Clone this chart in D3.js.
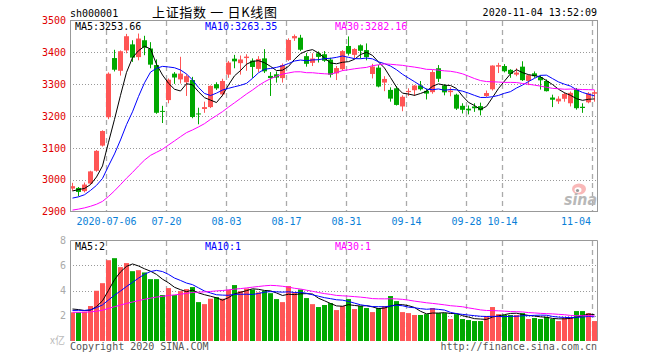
<!DOCTYPE html>
<html><head><meta charset="utf-8">
<script src="https://cdn.jsdelivr.net/npm/d3@7/dist/d3.min.js"></script>
<style>body{margin:0;background:#fff}svg{display:block}</style>
</head><body>
<svg id="c" width="660" height="360"></svg>
<script>
const dates = ["06-24","06-29","06-30","07-01","07-02","07-03","07-06","07-07","07-08","07-09","07-10","07-13","07-14","07-15","07-16","07-17","07-20","07-21","07-22","07-23","07-24","07-27","07-28","07-29","07-30","07-31","08-03","08-04","08-05","08-06","08-07","08-10","08-11","08-12","08-13","08-14","08-17","08-18","08-19","08-20","08-21","08-24","08-25","08-26","08-27","08-28","08-31","09-01","09-02","09-03","09-04","09-07","09-08","09-09","09-10","09-11","09-14","09-15","09-16","09-17","09-18","09-21","09-22","09-23","09-24","09-25","09-28","09-29","09-30","10-09","10-12","10-13","10-14","10-15","10-16","10-19","10-20","10-21","10-22","10-23","10-26","10-27","10-28","10-29","10-30","11-02","11-03","11-04"];
const open = [2972,2974,2964,2988,3028,3107,3196,3382,3342,3406,3425,3385,3438,3412,3360,3216,3250,3333,3315,3306,3313,3208,3222,3228,3300,3268,3330,3380,3366,3382,3374,3348,3381,3326,3331,3319,3376,3444,3446,3388,3367,3397,3394,3377,3334,3347,3420,3392,3422,3407,3332,3352,3305,3282,3287,3230,3275,3281,3296,3279,3275,3350,3296,3275,3267,3232,3223,3230,3231,3263,3284,3355,3357,3345,3330,3355,3310,3334,3322,3310,3258,3246,3254,3240,3284,3229,3243,3270];
const high = [2990,2977,2991,3028,3093,3155,3337,3408,3406,3458,3438,3459,3452,3432,3378,3232,3318,3338,3386,3331,3323,3226,3245,3296,3306,3317,3373,3392,3390,3394,3381,3388,3410,3338,3340,3365,3444,3456,3455,3398,3397,3403,3404,3383,3357,3407,3450,3413,3425,3428,3364,3360,3325,3290,3294,3265,3287,3297,3310,3286,3345,3360,3300,3290,3270,3240,3233,3240,3242,3280,3359,3367,3363,3347,3350,3372,3330,3340,3328,3315,3267,3262,3274,3277,3288,3240,3275,3281];
const low = [2965,2948,2960,2985,3025,3104,3190,3340,3327,3397,3370,3375,3391,3350,3207,3178,3240,3301,3302,3263,3193,3174,3210,3225,3282,3262,3320,3350,3330,3342,3320,3338,3335,3263,3305,3305,3373,3436,3404,3355,3357,3368,3370,3321,3313,3342,3390,3380,3381,3375,3318,3290,3278,3245,3233,3215,3263,3263,3280,3252,3270,3307,3265,3262,3219,3208,3205,3213,3202,3260,3280,3335,3337,3320,3325,3310,3297,3320,3283,3277,3228,3238,3245,3230,3220,3210,3240,3245];
const close = [2979.55,2961.52,2984.67,3025.98,3090.57,3152.81,3332.88,3345.34,3403.44,3450.59,3383.32,3443.29,3414.62,3361.30,3210.10,3214.13,3314.15,3320.90,3333.16,3325.11,3196.77,3205.23,3227.96,3294.55,3286.82,3310.01,3367.97,3371.69,3377.56,3386.46,3354.04,3379.25,3340.29,3319.27,3320.73,3360.10,3438.80,3451.09,3408.13,3363.90,3380.68,3385.64,3373.58,3329.74,3350.59,3403.81,3395.68,3410.61,3404.80,3384.98,3355.37,3292.59,3316.42,3254.63,3234.82,3260.35,3278.81,3295.68,3283.92,3270.44,3338.09,3316.94,3274.30,3279.71,3223.18,3219.42,3217.53,3224.36,3218.05,3272.08,3358.47,3359.75,3340.50,3332.18,3336.36,3312.50,3328.10,3325.03,3312.16,3278.00,3251.12,3254.32,3269.24,3272.74,3224.53,3225.12,3271.07,3274.84];
const volume = [2.27,2.27,2.32,2.77,3.98,4.58,6.40,6.56,5.85,6.17,5.53,5.61,5.43,4.90,4.90,3.64,4.19,3.64,3.95,4.11,4.27,3.08,2.92,3.35,3.48,3.35,4.06,4.43,3.95,4.16,4.08,3.85,3.98,3.79,3.32,3.08,4.35,3.85,4.08,3.40,2.92,2.69,2.85,3.00,2.45,2.77,3.32,2.53,2.77,2.61,2.29,2.61,2.77,3.56,3.16,2.29,2.21,2.06,2.06,2.13,2.61,2.21,2.21,1.74,2.13,1.74,1.66,1.58,1.58,1.98,2.69,2.13,2.06,2.06,2.06,2.21,1.74,1.82,1.74,1.90,1.74,1.58,1.82,1.90,2.37,2.37,2.21,1.58];
// closes / volumes of the 29 sessions before the first visible bar (needed for the moving averages)
const priorClose = [2870.34,2868.46,2875.42,2898.58,2883.74,2867.92,2813.77,2817.97,2846.55,2836.80,2846.22,2852.35,2915.43,2921.40,2923.37,2919.25,2930.80,2937.77,2943.75,2943.32,2920.90,2919.74,2890.03,2931.75,2935.87,2939.32,2967.63,2965.27,2970.62];
const priorVolume = [2.3,2.1,2.0,2.4,2.2,2.1,2.5,2.0,2.2,2.3,2.1,2.4,2.2,2.3,2.0,2.1,2.2,2.3,2.2,2.1,2.2,2.4,2.3,2.2,2.45,2.5,2.7,2.6,2.6];
const priceTicks = [3500,3400,3300,3200,3100,3000,2900];
const priceGrid = [3400,3300,3200,3100,3000];
const volTicks = [8,6,4,2];
const volGrid = [6,4,2];
const tickDates = ["07-06","07-20","08-03","08-17","08-31","09-14","09-28","10-14","11-04"];
const tickLabels = ["2020-07-06","07-20","08-03","08-17","08-31","09-14","09-28","10-14","11-04"];
const maPeriods = [5,10,30];
const maColors = ["#000000","#0000ff","#ff00ff"];
const priceMaLabels = ["MA5:3253.66","MA10:3263.35","MA30:3282.16"];
const volMaLabels = ["MA5:2","MA10:1","MA30:1"];

const UP = "#ff5555", DOWN = "#00a800";
const MONO = "'DejaVu Sans Mono', monospace";
const svg = d3.select("#c");

const x = d3.scaleBand().domain(dates).range([70, 597]).paddingInner(1/6).paddingOuter(0).align(0);
const y = d3.scaleLinear().domain([2900, 3500]).range([211.5, 20.5]);
const yv = d3.scaleLinear().domain([0, 8]).range([341, 240]);
const bw = x.bandwidth();
const cx = d => x(d) + bw / 2;

function movingAvg(prior, vals, n) {
  const all = prior.concat(vals);
  return vals.map((v, i) => {
    const end = prior.length + i;
    return d3.mean(all.slice(end - n + 1, end + 1));
  });
}

// ---------- grids ----------
const grid = svg.append("g");
grid.selectAll(".hp").data(priceGrid).join("line")
  .attr("x1", 70).attr("x2", 597.5)
  .attr("y1", d => Math.round(y(d)) + 0.5).attr("y2", d => Math.round(y(d)) + 0.5)
  .attr("stroke", "#999").attr("stroke-dasharray", "1,2");
grid.selectAll(".hv").data(volGrid).join("line")
  .attr("x1", 70).attr("x2", 597.5)
  .attr("y1", d => Math.round(yv(d)) + 0.5).attr("y2", d => Math.round(yv(d)) + 0.5)
  .attr("stroke", "#999").attr("stroke-dasharray", "1,2");
grid.selectAll(".vp").data(tickDates).join("line")
  .attr("x1", d => x(d) + 0.5).attr("x2", d => x(d) + 0.5)
  .attr("y1", 21).attr("y2", 211)
  .attr("stroke", "#aaa").attr("stroke-width", 1.3).attr("stroke-dasharray", "5,4");
grid.selectAll(".vv").data(tickDates).join("line")
  .attr("x1", d => x(d) + 0.5).attr("x2", d => x(d) + 0.5)
  .attr("y1", 241).attr("y2", 341)
  .attr("stroke", "#aaa").attr("stroke-width", 1.3).attr("stroke-dasharray", "5,4");

// ---------- watermark ----------
const wm = svg.append("g");
wm.append("ellipse").attr("cx", 579).attr("cy", 189).attr("rx", 7).attr("ry", 5.5).attr("fill", "#f9b8b8");
wm.append("ellipse").attr("cx", 578).attr("cy", 190).attr("rx", 3.5).attr("ry", 2.8).attr("fill", "#fff");
wm.append("circle").attr("cx", 577.5).attr("cy", 190.5).attr("r", 1.6).attr("fill", "#999");
wm.append("text").attr("x", 564).attr("y", 205).attr("font-family", "'DejaVu Sans', sans-serif")
  .attr("font-size", 15).attr("font-style", "italic").attr("font-weight", "bold")
  .attr("fill", "#b8b8b8").attr("textLength", 33).attr("lengthAdjust", "spacingAndGlyphs").text("sina");

// ---------- candles ----------
const idx = d3.range(dates.length);
const up = i => close[i] >= open[i];
const cg = svg.append("g");
cg.selectAll(".wick").data(idx).join("rect")
  .attr("x", i => x(dates[i]) + 2).attr("width", 1)
  .attr("y", i => y(high[i])).attr("height", i => Math.max(1, y(low[i]) - y(high[i])))
  .attr("fill", i => up(i) ? UP : DOWN);
cg.selectAll(".body").data(idx).join("rect")
  .attr("x", i => x(dates[i])).attr("width", bw)
  .attr("y", i => y(Math.max(open[i], close[i])))
  .attr("height", i => Math.max(1, Math.abs(y(open[i]) - y(close[i]))))
  .attr("fill", i => up(i) ? UP : DOWN);

// ---------- volume bars ----------
svg.append("g").selectAll("rect").data(idx).join("rect")
  .attr("x", i => x(dates[i])).attr("width", bw)
  .attr("y", i => yv(volume[i])).attr("height", i => yv(0) - yv(volume[i]))
  .attr("fill", i => up(i) ? UP : DOWN);

// ---------- moving averages ----------
maPeriods.forEach((n, k) => {
  const pm = movingAvg(priorClose, close, n);
  const vm = movingAvg(priorVolume, volume, n);
  svg.append("path").datum(pm)
    .attr("d", d3.line().x((d, i) => cx(dates[i])).y(d => y(d)))
    .attr("fill", "none").attr("stroke", maColors[k]).attr("stroke-width", 1);
  svg.append("path").datum(vm)
    .attr("d", d3.line().x((d, i) => cx(dates[i])).y(d => yv(d)))
    .attr("fill", "none").attr("stroke", maColors[k]).attr("stroke-width", 1);
});

// ---------- frames ----------
svg.append("rect").attr("x", 70.5).attr("y", 20.5).attr("width", 527).attr("height", 191)
  .attr("fill", "none").attr("stroke", "#999");
svg.append("path").attr("d", "M70.5,341V240.5H597.5V341").attr("fill", "none").attr("stroke", "#999");

// ---------- axes ----------
const ya = svg.append("g").attr("transform", "translate(70,0)")
  .call(d3.axisLeft(y).tickValues(priceTicks).tickFormat(d3.format("d")).tickSize(0).tickPadding(4));
ya.select(".domain").remove();
ya.selectAll("text").attr("fill", "#e00000").attr("font-family", MONO).attr("font-size", 10);

const va = svg.append("g").attr("transform", "translate(70,0)")
  .call(d3.axisLeft(yv).tickValues(volTicks).tickFormat(d3.format("d")).tickSize(0).tickPadding(4));
va.select(".domain").remove();
va.selectAll("text").attr("fill", "#aaa").attr("font-family", MONO).attr("font-size", 10);

svg.append("g").selectAll("text").data(tickDates).join("text")
  .attr("x", (d, i) => i === tickDates.length - 1 ? x(d) - 1 : x(d) + 0.5)
  .attr("y", 225)
  .attr("text-anchor", (d, i) => i === tickDates.length - 1 ? "end" : "middle")
  .attr("font-family", MONO).attr("font-size", 10).attr("fill", "#0a7fd8")
  .text((d, i) => tickLabels[i]);

// ---------- texts ----------
const txt = (xx, yy, s, opt = {}) => svg.append("text").attr("x", xx).attr("y", yy)
  .attr("font-family", opt.font || MONO).attr("font-size", opt.size || 10)
  .attr("fill", opt.fill || "#000").attr("text-anchor", opt.anchor || "start").text(s);

txt(70, 16.5, "sh000001");
txt(152, 16.5, "上证指数 一 日K线图", {font: "'Noto Sans CJK SC', sans-serif", size: 13})
  .style("white-space", "pre").attr("textLength", 125).attr("lengthAdjust", "spacing");
txt(597, 16, "2020-11-04 13:52:09", {anchor: "end"});

const maX = [75, 205, 335];
priceMaLabels.forEach((s, k) => txt(maX[k], 29.5, s, {fill: maColors[k]}));
volMaLabels.forEach((s, k) => txt(maX[k], 249.5, s, {fill: maColors[k]}));

txt(65, 344, "x亿", {fill: "#bbb", anchor: "end", font: "'Noto Sans CJK SC', sans-serif", size: 10});
txt(70, 350, "Copyright 2020 SINA.COM", {fill: "#555"});
txt(597, 350, "http://finance.sina.com.cn", {fill: "#555", anchor: "end"});
</script>
</body></html>
